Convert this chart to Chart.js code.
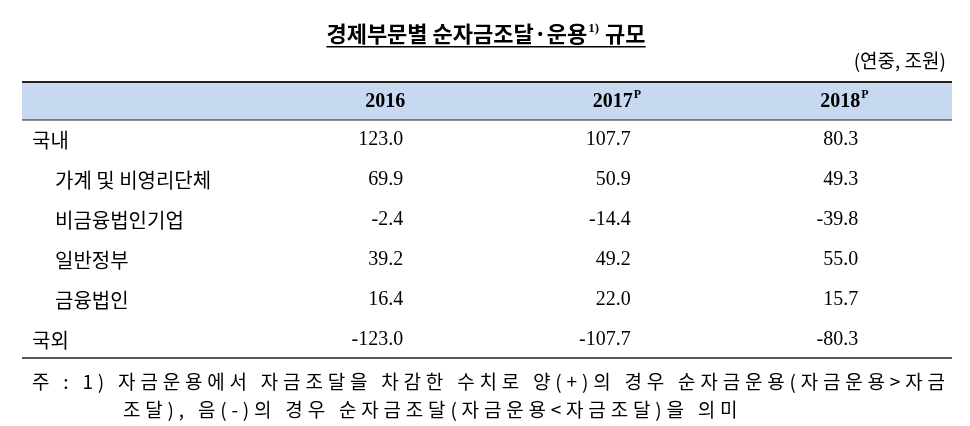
<!DOCTYPE html>
<html><head><meta charset="utf-8">
<script src="https://cdn.jsdelivr.net/npm/chart.js@4"></script>
<style>body{margin:0;background:#fff}</style></head>
<body><canvas id="c" width="970" height="426"></canvas>
<script>
const columns = ['항목', '2016', '2017', '2018'];
const headerLabels = ['', '2016', '2017', '2018'];
const headerSup = ['', '', 'P', 'P'];
const rows = ['국내', '가계 및 비영리단체', '비금융법인기업', '일반정부', '금융법인', '국외'];
const indent = [false, true, true, true, true, false];
const v2016 = [123.0, 69.9, -2.4, 39.2, 16.4, -123.0];
const v2017 = [107.7, 50.9, -14.4, 49.2, 22.0, -107.7];
const v2018 = [80.3, 49.3, -39.8, 55.0, 15.7, -80.3];
const series = [v2016, v2017, v2018];

const points = [];
rows.forEach((r, i) => series.forEach((s, j) => points.push({x: columns[j+1], y: r, v: s[i]})));

const SERIF = '"Liberation Serif","DejaVu Serif",serif';
const KR = '"Noto Sans CJK KR","Noto Sans",sans-serif';

const tablePlugin = {
  id: 'table',
  afterDatasetsDraw(chart) {
    const ctx = chart.ctx, xs = chart.scales.x, ys = chart.scales.y, a = chart.chartArea;
    const hTop = a.top - 38;
    ctx.save();
    ctx.fillStyle = '#c6d9f1';
    ctx.fillRect(22, hTop, 930, 38);
    ctx.strokeStyle = '#222'; ctx.lineWidth = 2;
    ctx.beginPath(); ctx.moveTo(22, hTop); ctx.lineTo(952, hTop); ctx.stroke();
    ctx.lineWidth = 1;
    ctx.beginPath(); ctx.moveTo(22, a.top); ctx.lineTo(952, a.top); ctx.stroke();
    ctx.lineWidth = 1.5;
    ctx.beginPath(); ctx.moveTo(22, a.bottom - 2); ctx.lineTo(952, a.bottom - 2); ctx.stroke();
    // title
    ctx.fillStyle = '#000'; ctx.textBaseline = 'alphabetic';
    const t1 = '경제부문별 순자금조달·운용', t2 = ' 규모';
    ctx.font = 'bold 22px ' + KR; const w1 = ctx.measureText(t1).width;
    ctx.font = 'bold 13px ' + SERIF; const ws = ctx.measureText('1)').width;
    ctx.font = 'bold 22px ' + KR; const w2 = ctx.measureText(t2).width;
    let tx = 485 - (w1 + ws + w2) / 2;
    ctx.fillText(t1, tx, 42);
    ctx.font = 'bold 13px ' + SERIF; ctx.fillText('1)', tx + w1 + 1, 32);
    ctx.font = 'bold 22px ' + KR; ctx.fillText(t2, tx + w1 + ws + 2, 42);
    ctx.fillRect(tx, 46, w1 + ws + w2 + 2, 1.5);
    // unit
    ctx.font = '19px ' + KR; ctx.textAlign = 'right';
    ctx.fillText('(연중, 조원)', 946, 68);
    // headers
    ctx.textBaseline = 'middle';
    for (let j = 1; j < columns.length; j++) {
      const cx = xs.getPixelForValue(j) + 2;
      ctx.textAlign = 'right';
      ctx.font = 'bold 20px ' + SERIF;
      ctx.fillText(headerLabels[j], cx + 20, hTop + 20);
      if (headerSup[j]) { ctx.textAlign = 'left'; ctx.font = 'bold 12px ' + SERIF; ctx.fillText(headerSup[j], cx + 21, hTop + 13); }
    }
    rows.forEach((r, i) => {
      const y = ys.getPixelForValue(i);
      ctx.textAlign = 'left'; ctx.font = '20px ' + KR;
      ctx.fillText(r, indent[i] ? 55 : 32, y);
    });
    ctx.font = '20px ' + SERIF; ctx.textAlign = 'right';
    chart.data.datasets[0].data.forEach(p => {
      ctx.fillText(p.v.toFixed(1), xs.getPixelForValue(columns.indexOf(p.x)) + 20, ys.getPixelForValue(rows.indexOf(p.y)));
    });
    // footnote, justified
    ctx.textAlign = 'left'; ctx.font = '19px ' + KR; ctx.textBaseline = 'alphabetic';
    const f1 = '주 : 1) 자금운용에서 자금조달을 차감한 수치로 양(+)의 경우 순자금운용(자금운용>자금';
    const f2 = '조달), 음(-)의 경우 순자금조달(자금운용<자금조달)을 의미';
    ctx.letterSpacing = '0px';
    const fw = ctx.measureText(f1).width;
    const sp = Math.max(0, (913 - fw) / (f1.length - 1));
    ctx.letterSpacing = sp.toFixed(2) + 'px';
    ctx.fillText(f1, 32, 389);
    ctx.fillText(f2, 123, 417);
    ctx.restore();
  }
};

new Chart(document.getElementById('c'), {
  type: 'scatter',
  data: { datasets: [{ data: points, pointRadius: 0, pointHoverRadius: 0 }] },
  options: {
    responsive: false, animation: false,
    layout: { padding: { left: 42, right: 18, top: 120, bottom: 66 } },
    plugins: { legend: { display: false }, tooltip: { enabled: false } },
    scales: {
      x: { type: 'category', labels: columns, offset: true, display: false },
      y: { type: 'category', labels: rows, offset: true, display: false }
    }
  },
  plugins: [tablePlugin]
});
</script></body></html>
